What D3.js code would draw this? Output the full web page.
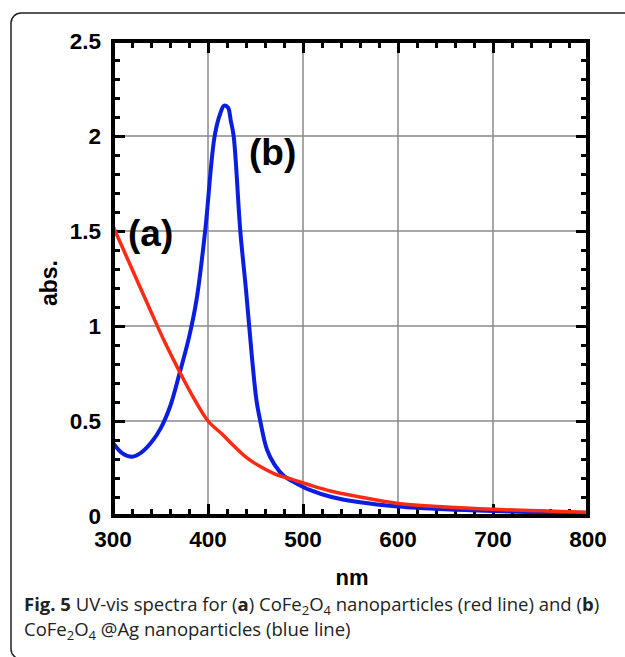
<!DOCTYPE html>
<html lang="en">
<head>
    <meta charset="UTF-8">
    <title>UV-vis spectra</title>
    <script src="https://cdn.jsdelivr.net/npm/d3@7/dist/d3.min.js"></script>
    <style>
        body { margin: 0; background: #fff; }
    </style>
</head>
<body>
<script type="application/javascript">

    // (a) CoFe2O4, red line
    let nmA  = [300, 320, 340, 355, 370, 385, 400, 415, 427, 440, 455, 470, 490, 507, 530, 560, 600, 650, 700, 750, 800];
    let absA = [1.525, 1.30, 1.075, 0.91, 0.76, 0.62, 0.50, 0.43, 0.37, 0.31, 0.26, 0.222, 0.19, 0.163, 0.13, 0.10, 0.066, 0.047, 0.035, 0.027, 0.02];

    // (b) CoFe2O4@Ag, blue line
    let nmB  = [300, 310, 320, 330, 340, 350, 360, 370, 380, 388, 397, 407, 413, 417, 421, 424, 427, 434, 440, 446, 451, 455, 462, 470, 480, 490, 507, 530, 560, 600, 650, 700, 750, 800];
    let absB = [0.385, 0.33, 0.312, 0.335, 0.385, 0.46, 0.575, 0.75, 0.94, 1.14, 1.50, 2.0, 2.12, 2.16, 2.15, 2.08, 2.0, 1.5, 1.19, 0.85, 0.61, 0.50, 0.35, 0.27, 0.21, 0.18, 0.137, 0.10, 0.072, 0.05, 0.035, 0.026, 0.02, 0.015];

    let xTicks = [300, 400, 500, 600, 700, 800];
    let yTicks = [0, 0.5, 1, 1.5, 2, 2.5];

    let w = 625, h = 657;
    let pLeft = 113, pRight = 588, pTop = 41, pBottom = 516;

    let svg = d3.select('body')
        .append('svg')
        .attr('width', w)
        .attr('height', h)
        .style('font-family', '"Liberation Sans", Arial, sans-serif');

    // rounded figure border, runs off the right and bottom edges
    svg.append('rect')
        .attr('x', 11).attr('y', 13)
        .attr('width', 700).attr('height', 646)
        .attr('rx', 10)
        .attr('fill', 'none')
        .attr('stroke', '#222')
        .attr('stroke-width', 1.5);

    let x = d3.scaleLinear().domain([300, 800]).range([pLeft, pRight]);
    let y = d3.scaleLinear().domain([0, 2.5]).range([pBottom, pTop]);

    // grid
    let grid = svg.append('g').attr('stroke', '#8a8a8a').attr('stroke-width', 1.5);
    grid.selectAll('line.vx')
        .data(xTicks.slice(1, -1))
        .enter().append('line')
        .attr('x1', d => x(d)).attr('x2', d => x(d))
        .attr('y1', pTop).attr('y2', pBottom);
    grid.selectAll('line.hy')
        .data(yTicks.slice(1, -1))
        .enter().append('line')
        .attr('y1', d => y(d)).attr('y2', d => y(d))
        .attr('x1', pLeft).attr('x2', pRight);

    // inward ticks on all four sides
    let minorX = d3.range(300, 801, 20).filter(v => v % 100 !== 0);
    let minorY = d3.range(0, 26, 1).map(v => v / 10).filter(v => Math.round(v * 10) % 5 !== 0);

    function tickAxis(axis, tr) {
        let g = svg.append('g').attr('transform', tr).call(axis);
        g.select('.domain').remove();
        g.selectAll('line').attr('stroke', '#000').attr('stroke-width', 3);
        g.selectAll('text').remove();
    }
    tickAxis(d3.axisBottom(x).tickValues(minorX).tickSize(-7), `translate(0,${pBottom})`);
    tickAxis(d3.axisBottom(x).tickValues(xTicks).tickSize(-12), `translate(0,${pBottom})`);
    tickAxis(d3.axisTop(x).tickValues(minorX).tickSize(-7), `translate(0,${pTop})`);
    tickAxis(d3.axisTop(x).tickValues(xTicks).tickSize(-12), `translate(0,${pTop})`);
    tickAxis(d3.axisLeft(y).tickValues(minorY).tickSize(-7), `translate(${pLeft},0)`);
    tickAxis(d3.axisLeft(y).tickValues(yTicks).tickSize(-12), `translate(${pLeft},0)`);
    tickAxis(d3.axisRight(y).tickValues(minorY).tickSize(-7), `translate(${pRight},0)`);
    tickAxis(d3.axisRight(y).tickValues(yTicks).tickSize(-12), `translate(${pRight},0)`);

    // tick labels
    svg.append('g').selectAll('text')
        .data(xTicks)
        .enter().append('text')
        .attr('x', d => x(d))
        .attr('y', 547)
        .attr('text-anchor', 'middle')
        .attr('font-size', 22.5)
        .attr('font-weight', 'bold')
        .text(d => d);

    svg.append('g').selectAll('text')
        .data(yTicks)
        .enter().append('text')
        .attr('x', 101)
        .attr('y', d => y(d) + 8)
        .attr('text-anchor', 'end')
        .attr('font-size', 22.5)
        .attr('font-weight', 'bold')
        .text(d => d);

    // spectra
    let line = d3.line()
        .x(d => x(d[0]))
        .y(d => y(d[1]))
        .curve(d3.curveCatmullRom.alpha(0.5));

    svg.append('clipPath').attr('id', 'plot')
        .append('rect')
        .attr('x', pLeft).attr('y', pTop)
        .attr('width', pRight - pLeft).attr('height', pBottom - pTop);

    let plot = svg.append('g').attr('clip-path', 'url(#plot)');

    plot.append('path')
        .attr('d', line(d3.zip(nmB, absB)))
        .attr('fill', 'none')
        .attr('stroke', '#0a1ee0')
        .attr('stroke-width', 4)
        .attr('stroke-linejoin', 'round');

    plot.append('path')
        .attr('d', line(d3.zip(nmA, absA)))
        .attr('fill', 'none')
        .attr('stroke', '#ff2a14')
        .attr('stroke-width', 3.5)
        .attr('stroke-linejoin', 'round');

    // plot frame
    svg.append('rect')
        .attr('x', pLeft).attr('y', pTop)
        .attr('width', pRight - pLeft).attr('height', pBottom - pTop)
        .attr('fill', 'none')
        .attr('stroke', '#000')
        .attr('stroke-width', 4);

    // curve labels
    svg.append('text')
        .attr('x', 128).attr('y', 246)
        .attr('font-size', 37).attr('font-weight', 'bold')
        .text('(a)');
    svg.append('text')
        .attr('x', 249).attr('y', 165)
        .attr('font-size', 37).attr('font-weight', 'bold')
        .text('(b)');

    // axis titles
    svg.append('text')
        .attr('transform', 'translate(57,283) rotate(-90)')
        .attr('text-anchor', 'middle')
        .attr('font-size', 23).attr('font-weight', 'bold')
        .text('abs.');
    svg.append('text')
        .attr('x', 352).attr('y', 585)
        .attr('text-anchor', 'middle')
        .attr('font-size', 22).attr('font-weight', 'bold')
        .text('nm');

    // caption
    let cap = svg.append('g')
        .style('font-family', '"Open Sans", "Noto Sans", sans-serif')
        .attr('font-size', 18.5)
        .attr('fill', '#222');

    let l1 = cap.append('text').attr('x', 24).attr('y', 611);
    l1.append('tspan').attr('font-weight', 'bold').text('Fig. 5');
    l1.append('tspan').text(' UV-vis spectra for (');
    l1.append('tspan').attr('font-weight', 'bold').text('a');
    l1.append('tspan').text(') CoFe');
    l1.append('tspan').attr('dy', 4).attr('font-size', 13).text('2');
    l1.append('tspan').attr('dy', -4).text('O');
    l1.append('tspan').attr('dy', 4).attr('font-size', 13).text('4');
    l1.append('tspan').attr('dy', -4).text(' nanoparticles (red line) and (');
    l1.append('tspan').attr('font-weight', 'bold').text('b');
    l1.append('tspan').text(')');

    let l2 = cap.append('text').attr('x', 24).attr('y', 636);
    l2.append('tspan').text('CoFe');
    l2.append('tspan').attr('dy', 4).attr('font-size', 13).text('2');
    l2.append('tspan').attr('dy', -4).text('O');
    l2.append('tspan').attr('dy', 4).attr('font-size', 13).text('4');
    l2.append('tspan').attr('dy', -4).text(' @Ag nanoparticles (blue line)');

</script>
</body>
</html>
